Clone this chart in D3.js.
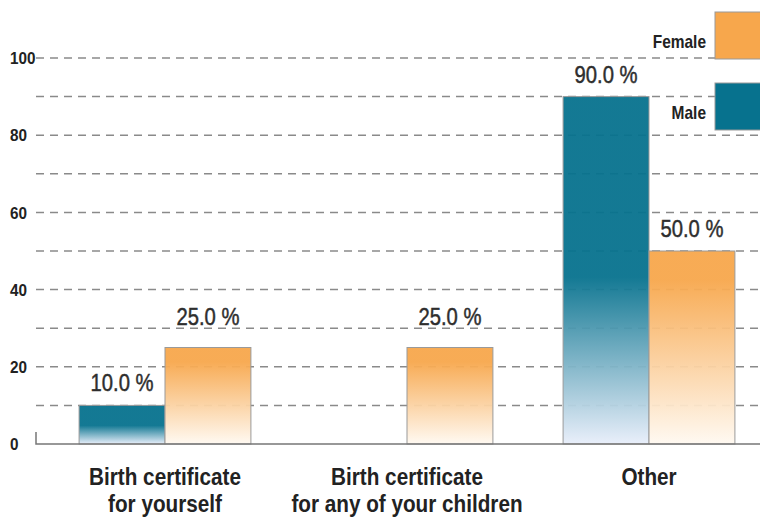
<!DOCTYPE html>
<html>
<head>
<meta charset="utf-8">
<script src="https://cdn.jsdelivr.net/npm/d3@7"></script>
<style>
  body { margin: 0; background: #fff; }
  text { font-family: "Liberation Sans", Arial, sans-serif; }
</style>
</head>
<body>
<script>
// chart data
const categories = [['Birth certificate', 'for yourself'], ['Birth certificate', 'for any of your children'], ['Other']]
const series = ['Male', 'Female']
const maleValues = [10, 0, 90]
const femaleValues = [25, 25, 50]
const yTicks = [0, 20, 40, 60, 80, 100]
const gridValues = [10, 20, 30, 40, 50, 60, 70, 80, 90, 100]

const App = {
    width: 760,
    height: 517,
    colors: { Male: '#07728e', Female: '#f7a74c' }
}

App.svg = d3.select('body').append('svg')
    .attr('width', App.width)
    .attr('height', App.height)

const defs = App.svg.append('defs')

function gradient(id, top, mid, bottom) {
    let g = defs.append('linearGradient')
        .attr('id', id)
        .attr('x1', 0).attr('y1', 0)
        .attr('x2', 0).attr('y2', 1)
    g.append('stop').attr('offset', '0%').attr('stop-color', top)
    g.append('stop').attr('offset', mid).attr('stop-color', top)
    g.append('stop').attr('offset', '100%').attr('stop-color', bottom)
}
gradient('grad-Male', App.colors.Male, '52%', '#e8eefa')
gradient('grad-Female', App.colors.Female, '15%', '#fff9f1')

// condensed look: squeeze text horizontally around its anchor
function squeeze(sel, sx, fx, fy) {
    sel.attr('transform', function (d, i) {
        return 'translate(' + fx(d, i) + ',' + fy(d, i) + ') scale(' + sx + ',1)'
    })
}

const y = d3.scaleLinear().domain([0, 100]).range([444, 58])
const x = d3.scaleBand()
    .domain(d3.range(categories.length))
    .range([44, 770])
    .paddingInner(0.29)
    .paddingOuter(0.145)
const xs = d3.scaleBand().domain(series).range([0, x.bandwidth()])

// dashed grid
App.svg.append('g').selectAll('line')
    .data(gridValues)
    .join('line')
    .attr('x1', 36).attr('x2', 760)
    .attr('y1', d => y(d)).attr('y2', d => y(d))
    .attr('stroke', '#8a8a8a')
    .attr('stroke-width', 1.5)
    .attr('stroke-dasharray', '8,6')

// y labels
App.svg.append('g').selectAll('text')
    .data(yTicks)
    .join('text')
    .attr('dy', '0.36em')
    .attr('font-size', 17)
    .attr('font-weight', 'bold')
    .attr('fill', '#222')
    .text(d => d)
    .call(squeeze, 0.9, () => 10, d => y(d))

// bars
const rows = []
categories.forEach((c, i) => {
    rows.push({ i: i, s: 'Male', v: maleValues[i] })
    rows.push({ i: i, s: 'Female', v: femaleValues[i] })
})
const shown = rows.filter(d => d.v > 0)

const bars = App.svg.append('g')
bars.selectAll('rect')
    .data(shown)
    .join('rect')
    .attr('x', d => x(d.i) + xs(d.s))
    .attr('y', d => y(d.v))
    .attr('width', xs.bandwidth())
    .attr('height', d => y(0) - y(d.v))
    .attr('fill', d => 'url(#grad-' + d.s + ')')
    .attr('fill-opacity', 0.95)
    .attr('stroke', '#9a9a9a')
    .attr('stroke-width', 1)

// value label baseline, nudged up so it doesn't sit on a grid line
function labelY(v) {
    let base = y(v) - 14
    let top = base - 17
    for (let g of gridValues) {
        let gy = y(g)
        if (gy > top && gy < base + 1) return gy - 3
    }
    return base
}

bars.selectAll('text')
    .data(shown)
    .join('text')
    .attr('text-anchor', 'middle')
    .attr('font-size', 23)
    .attr('fill', '#2e2e2e')
    .attr('stroke', '#2e2e2e')
    .attr('stroke-width', 0.45)
    .text(d => d.v.toFixed(1) + ' %')
    .call(squeeze, 0.88, d => x(d.i) + xs(d.s) + xs.bandwidth() / 2, d => labelY(d.v))

// axis
App.svg.append('path')
    .attr('d', 'M36,432V444H760')
    .attr('fill', 'none')
    .attr('stroke', '#777')
    .attr('stroke-width', 1.5)

// category labels
const cat = App.svg.append('g').selectAll('text')
    .data(categories)
    .join('text')
    .attr('text-anchor', 'middle')
    .attr('font-size', 23)
    .attr('font-weight', 'bold')
    .attr('fill', '#222')
    .call(squeeze, 0.9, (d, i) => x(i) + x.bandwidth() / 2, () => 485)
cat.selectAll('tspan')
    .data(d => d)
    .join('tspan')
    .attr('x', 0)
    .attr('dy', (d, i) => i === 0 ? 0 : 27)
    .text(d => d)

// legend
const legend = App.svg.append('g').selectAll('g')
    .data(['Female', 'Male'])
    .join('g')
    .attr('transform', (d, i) => 'translate(0,' + (12 + i * 71) + ')')
legend.append('rect')
    .attr('x', 715).attr('y', 0)
    .attr('width', 50).attr('height', 47)
    .attr('fill', d => App.colors[d])
    .attr('stroke', '#999')
legend.append('text')
    .attr('text-anchor', 'end')
    .attr('font-size', 18)
    .attr('font-weight', 'bold')
    .attr('fill', '#222')
    .text(d => d)
    .call(squeeze, 0.86, () => 706, () => 36)
</script>
</body>
</html>
